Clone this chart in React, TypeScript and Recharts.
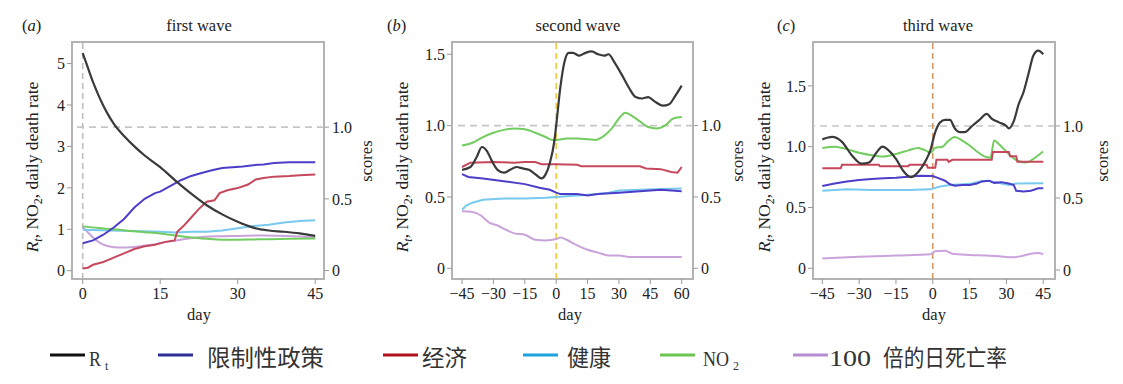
import { LineChart, Line, XAxis, YAxis, ReferenceLine, ReferenceArea } from "recharts";

type Pt = [number, number];

// ---- panel (a): first wave ----
const dayTicksA = [0, 15, 30, 45];
const leftTicksA = [0, 1, 2, 3, 4, 5];
const rtA: Pt[] = [[0, 5.25], [1, 4.9], [2, 4.55], [3, 4.25], [4, 3.98], [5, 3.75], [6, 3.55], [8, 3.25], [10, 3.0], [12, 2.78], [15, 2.5], [18, 2.17], [21, 1.86], [24, 1.58], [27, 1.36], [30, 1.18], [33, 1.04], [36, 0.97], [39, 0.94], [42, 0.9], [45, 0.84]];
const policyA: Pt[] = [[0, 0.19], [2, 0.21], [4, 0.25], [6, 0.3], [8, 0.36], [10, 0.44], [12, 0.5], [14, 0.54], [15, 0.55], [17, 0.59], [19, 0.63], [21, 0.66], [23, 0.68], [25, 0.7], [27, 0.715], [29, 0.72], [31, 0.725], [33, 0.735], [35, 0.74], [37, 0.75], [40, 0.755], [45, 0.755]];
const economyA: Pt[] = [[0, 0.015], [1, 0.02], [2, 0.04], [4, 0.06], [6, 0.09], [8, 0.12], [10, 0.15], [12, 0.17], [14, 0.18], [16, 0.2], [17.8, 0.21], [18.3, 0.27], [19.5, 0.31], [21, 0.37], [22.5, 0.43], [24, 0.48], [25.5, 0.49], [26.5, 0.54], [28, 0.56], [30, 0.575], [32, 0.6], [33.5, 0.635], [35, 0.645], [37, 0.655], [40, 0.66], [42, 0.665], [45, 0.67]];
const healthA: Pt[] = [[0, 0.285], [5, 0.28], [10, 0.275], [15, 0.27], [18, 0.265], [21, 0.27], [24, 0.27], [27, 0.28], [30, 0.295], [33, 0.31], [36, 0.32], [39, 0.335], [42, 0.345], [45, 0.35]];
const no2A: Pt[] = [[0, 1.07], [3, 1.03], [6, 1.0], [9, 0.96], [12, 0.93], [15, 0.9], [18, 0.85], [21, 0.8], [24, 0.77], [27, 0.75], [30, 0.75], [33, 0.755], [36, 0.76], [40, 0.77], [45, 0.78]];
const deathA: Pt[] = [[0, 1.05], [1, 0.93], [2, 0.8], [3, 0.7], [4, 0.63], [5, 0.59], [7, 0.56], [10, 0.575], [13, 0.62], [16, 0.69], [19, 0.75], [22, 0.8], [26, 0.83], [30, 0.84], [35, 0.85], [40, 0.84], [45, 0.8]];

// ---- panel (b): second wave ----
const dayTicksB = [-45, -30, -15, 0, 15, 30, 45, 60];
const leftTicksB = [0, 0.5, 1.0, 1.5];
const rtB: Pt[] = [[-45, 0.69], [-41, 0.71], [-38, 0.78], [-35.5, 0.85], [-33, 0.82], [-31, 0.76], [-28, 0.69], [-25, 0.67], [-22, 0.69], [-19, 0.71], [-16, 0.7], [-13, 0.69], [-10, 0.66], [-7, 0.63], [-5, 0.66], [-3, 0.74], [-1, 0.88], [0, 1.0], [2, 1.27], [4, 1.45], [6, 1.51], [8, 1.51], [11, 1.49], [14, 1.51], [17, 1.52], [20, 1.5], [23, 1.49], [25, 1.5], [28, 1.44], [32, 1.34], [35, 1.26], [38, 1.2], [41, 1.19], [44, 1.2], [47, 1.17], [51, 1.14], [54, 1.15], [57, 1.21], [60, 1.28]];
const no2B: Pt[] = [[-45, 0.86], [-40, 0.88], [-35, 0.92], [-30, 0.95], [-25, 0.97], [-20, 0.98], [-15, 0.975], [-10, 0.95], [-5, 0.92], [-2, 0.9], [0, 0.9], [5, 0.91], [10, 0.91], [15, 0.905], [19, 0.9], [22, 0.92], [26, 0.97], [30, 1.05], [33, 1.09], [36, 1.07], [40, 1.03], [44, 0.99], [48, 0.98], [52, 1.0], [56, 1.05], [60, 1.06]];
const economyB: Pt[] = [[-45, 0.71], [-41, 0.74], [-30, 0.745], [-20, 0.74], [-15, 0.745], [-10, 0.745], [-7, 0.73], [0, 0.73], [10, 0.725], [12, 0.715], [30, 0.715], [40, 0.715], [43, 0.7], [50, 0.695], [55, 0.675], [58, 0.67], [60, 0.71]];
const policyB: Pt[] = [[-45, 0.66], [-42, 0.64], [-35, 0.63], [-25, 0.61], [-15, 0.59], [-8, 0.565], [-3, 0.55], [0, 0.53], [2, 0.52], [10, 0.52], [15, 0.51], [20, 0.52], [30, 0.53], [40, 0.54], [50, 0.55], [55, 0.545], [60, 0.54]];
const healthB: Pt[] = [[-45, 0.41], [-43, 0.44], [-40, 0.46], [-35, 0.48], [-25, 0.49], [-15, 0.49], [-5, 0.495], [0, 0.5], [10, 0.51], [20, 0.52], [25, 0.53], [30, 0.545], [40, 0.55], [50, 0.555], [60, 0.56]];
const deathB: Pt[] = [[-45, 0.4], [-40, 0.395], [-36, 0.37], [-32, 0.32], [-28, 0.3], [-24, 0.27], [-20, 0.245], [-15, 0.235], [-10, 0.2], [-5, 0.195], [0, 0.205], [2, 0.215], [5, 0.2], [10, 0.16], [15, 0.13], [20, 0.11], [25, 0.09], [30, 0.09], [35, 0.08], [40, 0.08], [50, 0.08], [60, 0.08]];

// ---- panel (c): third wave ----
const dayTicksC = [-45, -30, -15, 0, 15, 30, 45];
const leftTicksC = [0, 0.5, 1.0, 1.5];
const rtC: Pt[] = [[-45, 1.06], [-41, 1.08], [-37, 1.04], [-33, 0.93], [-29, 0.86], [-26, 0.87], [-23, 0.95], [-20.5, 1.0], [-18, 0.97], [-15, 0.9], [-12, 0.8], [-9, 0.75], [-6, 0.79], [-3, 0.88], [-1, 0.97], [1, 1.12], [3, 1.2], [5, 1.22], [7, 1.22], [9, 1.15], [11, 1.12], [13, 1.12], [16, 1.17], [19, 1.22], [22, 1.27], [24, 1.23], [27, 1.2], [30, 1.17], [31, 1.15], [33, 1.21], [35, 1.35], [37, 1.45], [39, 1.6], [41, 1.75], [43, 1.79], [45, 1.76]];
const no2C: Pt[] = [[-45, 0.99], [-40, 1.0], [-35, 0.98], [-30, 0.95], [-25, 0.93], [-20, 0.92], [-15, 0.94], [-10, 0.97], [-6, 0.99], [-3, 0.97], [-1, 0.95], [1, 0.99], [4, 1.0], [6, 1.04], [9, 1.08], [12, 1.05], [15, 1.01], [18, 0.96], [21, 0.92], [23.5, 0.91], [25, 1.05], [27, 1.02], [29, 0.98], [32, 0.92], [35, 0.88], [38, 0.87], [41, 0.9], [43, 0.93], [45, 0.96]];
const economyC: Pt[] = [[-45, 0.706], [-37.5, 0.706], [-37, 0.73], [-22, 0.73], [-21.5, 0.72], [-10, 0.72], [-9.5, 0.73], [-2.5, 0.73], [-2, 0.71], [1, 0.71], [1.5, 0.765], [6, 0.765], [6.5, 0.75], [8, 0.765], [24, 0.765], [24.5, 0.82], [31, 0.82], [31.5, 0.79], [34, 0.79], [34.5, 0.752], [45, 0.752]];
const policyC: Pt[] = [[-45, 0.583], [-40, 0.6], [-35, 0.615], [-30, 0.625], [-25, 0.632], [-20, 0.637], [-15, 0.64], [-10, 0.648], [-5, 0.655], [0, 0.653], [2, 0.64], [5, 0.62], [7, 0.595], [9, 0.585], [12, 0.59], [15, 0.59], [18, 0.6], [20, 0.615], [23, 0.62], [25, 0.605], [28, 0.61], [31, 0.6], [33, 0.59], [34, 0.55], [37, 0.545], [40, 0.55], [43, 0.567], [45, 0.567]];
const healthC: Pt[] = [[-45, 0.551], [-35, 0.56], [-25, 0.556], [-10, 0.556], [-1, 0.56], [1, 0.57], [3, 0.58], [7, 0.59], [12, 0.595], [16, 0.6], [19, 0.615], [22, 0.62], [25, 0.61], [28, 0.6], [31, 0.59], [34, 0.6], [45, 0.602]];
const deathC: Pt[] = [[-45, 0.08], [-30, 0.095], [-15, 0.105], [-1, 0.115], [1, 0.14], [5, 0.145], [8, 0.12], [15, 0.11], [22, 0.105], [27, 0.1], [32, 0.09], [36, 0.1], [40, 0.12], [43, 0.125], [45, 0.115]];

const scoreTicks = [0, 0.5, 1.0];
const panelTitles = ["first wave", "second wave", "third wave"];
const panelTags = ["a", "b", "c"];
const legendNames = ["限制性政策", "经济", "健康"];
const deathName = "倍的日死亡率";

const C = {
  rt: "#3a3a3a",
  policy: "#4c3ec8",
  economy: "#c6485c",
  health: "#78c9ee",
  no2: "#73cc5f",
  death: "#c9a3d9",
};
const LEG = {
  rt: "#111111",
  policy: "#2e2f96",
  economy: "#b0121c",
  health: "#1ca3e0",
  no2: "#6cc451",
  death: "#b68ed2",
};

const SERIF = "Liberation Serif, DejaVu Serif, serif";
const CJK = "Noto Sans CJK SC, sans-serif";

const rows = (s: Pt[]) => s.map(([day, v]) => ({ day, v }));
const fmtDay = (v: number) => (v < 0 ? "\u2212" + Math.abs(v) : String(v));
const fmtDec = (v: number) => (v === 0 ? "0" : v.toFixed(1));
const tickStyle = { fontFamily: SERIF, fontSize: 16, fill: "#222" };

interface PanelProps {
  left: number;
  plotWidth: number;
  xDomain: [number, number];
  xTicks: number[];
  lDomain: [number, number];
  lTicks: number[];
  lFmt: (v: number) => string;
  rDomain: [number, number];
  vColor: string;
  rt: Pt[];
  no2: Pt[];
  death: Pt[];
  policy: Pt[];
  economy: Pt[];
  health: Pt[];
}

function Panel(p: PanelProps) {
  return (
    <div style={{ position: "absolute", left: p.left, top: 0 }}>
      <LineChart width={p.plotWidth + 112} height={330} margin={{ top: 42, right: 10, bottom: 21, left: 2 }}>
        <XAxis
          type="number"
          dataKey="day"
          domain={p.xDomain}
          ticks={p.xTicks}
          allowDataOverflow
          axisLine={false}
          tickLine={{ stroke: "#999" }}
          tickSize={5}
          tickMargin={4}
          height={30}
          tick={tickStyle}
          tickFormatter={fmtDay}
        />
        <YAxis
          yAxisId="L"
          type="number"
          domain={p.lDomain}
          ticks={p.lTicks}
          allowDataOverflow
          axisLine={false}
          tickLine={{ stroke: "#999" }}
          tickSize={5}
          tickMargin={2}
          width={60}
          tick={tickStyle}
          tickFormatter={p.lFmt}
        />
        <YAxis
          yAxisId="R"
          orientation="right"
          type="number"
          domain={p.rDomain}
          ticks={scoreTicks}
          allowDataOverflow
          axisLine={false}
          tickLine={{ stroke: "#999" }}
          tickSize={5}
          tickMargin={3}
          width={40}
          tick={tickStyle}
          tickFormatter={fmtDec}
        />
        <ReferenceLine yAxisId="R" y={1} stroke="#c6c6c6" strokeWidth={1.6} strokeDasharray="7 5" />
        <ReferenceLine yAxisId="L" x={0} stroke={p.vColor} strokeWidth={1.6} strokeDasharray="6 4" />
        <Line yAxisId="L" data={rows(p.death)} dataKey="v" type="monotone" stroke={C.death} strokeWidth={2} dot={false} isAnimationActive={false} />
        <Line yAxisId="R" data={rows(p.health)} dataKey="v" type="linear" stroke={C.health} strokeWidth={2} dot={false} isAnimationActive={false} />
        <Line yAxisId="L" data={rows(p.no2)} dataKey="v" type="monotone" stroke={C.no2} strokeWidth={2} dot={false} isAnimationActive={false} />
        <Line yAxisId="R" data={rows(p.economy)} dataKey="v" type="linear" stroke={C.economy} strokeWidth={2} dot={false} isAnimationActive={false} />
        <Line yAxisId="R" data={rows(p.policy)} dataKey="v" type="linear" stroke={C.policy} strokeWidth={2} dot={false} isAnimationActive={false} />
        <Line yAxisId="L" data={rows(p.rt)} dataKey="v" type="monotone" stroke={C.rt} strokeWidth={2.2} dot={false} isAnimationActive={false} />
        <ReferenceArea
          yAxisId="L"
          x1={p.xDomain[0]}
          x2={p.xDomain[1]}
          y1={p.lDomain[0]}
          y2={p.lDomain[1]}
          ifOverflow="visible"
          fill="none"
          fillOpacity={0}
          stroke="#b3b3b3"
          strokeWidth={2}
          strokeOpacity={1}
        />
      </LineChart>
    </div>
  );
}

function YLabel({ x, y }: { x: number; y: number }) {
  return (
    <text x={x} y={y} transform={`rotate(-90 ${x} ${y})`} textAnchor="middle" fontFamily={SERIF} fontSize={17.5} fill="#222">
      <tspan fontStyle="italic">R</tspan>
      <tspan fontStyle="italic" fontSize={12} dy={4}>t</tspan>
      <tspan dy={-4}>, NO</tspan>
      <tspan fontSize={12} dy={4}>2</tspan>
      <tspan dy={-4}>, daily death rate</tspan>
    </text>
  );
}

function Texts() {
  const tagX = [22, 387, 777];
  const titleX = [199, 578, 938];
  const dayX = [199, 570, 934];
  const yLabX = [38, 408, 770];
  const scoreX = [372, 743, 1108];
  return (
    <svg width={1123} height={384} style={{ position: "absolute", left: 0, top: 0, pointerEvents: "none" }}>
      {panelTags.map((t, i) => (
        <text key={t} x={tagX[i]} y={31} fontFamily={SERIF} fontSize={16.5} fill="#222">
          (<tspan fontStyle="italic">{t}</tspan>)
        </text>
      ))}
      {panelTitles.map((t, i) => (
        <text key={t} x={titleX[i]} y={31} textAnchor="middle" fontFamily={SERIF} fontSize={16.5} fill="#222">
          {t}
        </text>
      ))}
      {dayX.map((x) => (
        <text key={x} x={x} y={320} textAnchor="middle" fontFamily={SERIF} fontSize={16.5} fill="#222">
          day
        </text>
      ))}
      {yLabX.map((x) => (
        <YLabel key={x} x={x} y={167} />
      ))}
      {scoreX.map((x) => (
        <text key={x} x={x} y={161} transform={`rotate(-90 ${x} 161)`} textAnchor="middle" fontFamily={SERIF} fontSize={16.5} fill="#222">
          scores
        </text>
      ))}

      {/* legend */}
      <g fontFamily={CJK} fill="#333">
        <line x1={50} x2={85} y1={355} y2={355} stroke={LEG.rt} strokeWidth={3} />
        <text x={89} y={366} fontFamily={SERIF} fontSize={22} textLength={12} lengthAdjust="spacingAndGlyphs">R</text>
        <text x={105} y={370} fontFamily={SERIF} fontSize={12}>t</text>

        <line x1={158} x2={193} y1={355} y2={355} stroke={LEG.policy} strokeWidth={3} />
        <text x={207} y={366} fontSize={23} textLength={117} lengthAdjust="spacingAndGlyphs">{legendNames[0]}</text>

        <line x1={383} x2={418} y1={355} y2={355} stroke={LEG.economy} strokeWidth={3} />
        <text x={422} y={366} fontSize={23} textLength={45} lengthAdjust="spacingAndGlyphs">{legendNames[1]}</text>

        <line x1={523} x2={558} y1={355} y2={355} stroke={LEG.health} strokeWidth={3} />
        <text x={567} y={366} fontSize={23} textLength={44} lengthAdjust="spacingAndGlyphs">{legendNames[2]}</text>

        <line x1={660} x2={695} y1={355} y2={355} stroke={LEG.no2} strokeWidth={3} />
        <text x={703} y={366} fontFamily={SERIF} fontSize={22} textLength={26} lengthAdjust="spacingAndGlyphs">NO</text>
        <text x={733} y={370} fontFamily={SERIF} fontSize={12}>2</text>

        <line x1={793} x2={828} y1={355} y2={355} stroke={LEG.death} strokeWidth={3} />
        <text x={829} y={366} fontFamily={SERIF} fontSize={23} textLength={42} lengthAdjust="spacingAndGlyphs">100</text>
        <text x={883} y={366} fontSize={23} textLength={124} lengthAdjust="spacingAndGlyphs">{deathName}</text>
      </g>
    </svg>
  );
}

export default function App() {
  return (
    <div style={{ position: "absolute", left: 0, top: 0, width: 1123, height: 384, background: "#fff", overflow: "hidden" }}>
      <Panel
        left={10}
        plotWidth={252}
        xDomain={[-2.07, 46.7]}
        xTicks={dayTicksA}
        lDomain={[-0.2, 5.52]}
        lTicks={leftTicksA}
        lFmt={(v) => String(v)}
        rDomain={[-0.059, 1.594]}
        vColor="#bdbdbd"
        rt={rtA}
        no2={no2A}
        death={deathA}
        policy={policyA}
        economy={economyA}
        health={healthA}
      />
      <Panel
        left={390}
        plotWidth={241}
        xDomain={[-49.8, 65.4]}
        xTicks={dayTicksB}
        lDomain={[-0.075, 1.586]}
        lTicks={leftTicksB}
        lFmt={fmtDec}
        rDomain={[-0.075, 1.586]}
        vColor="#f0c848"
        rt={rtB}
        no2={no2B}
        death={deathB}
        policy={policyB}
        economy={economyB}
        health={healthB}
      />
      <Panel
        left={751}
        plotWidth={242}
        xDomain={[-48.8, 49.8]}
        xTicks={dayTicksC}
        lDomain={[-0.088, 1.861]}
        lTicks={leftTicksC}
        lFmt={fmtDec}
        rDomain={[-0.0625, 1.583]}
        vColor="#d69a66"
        rt={rtC}
        no2={no2C}
        death={deathC}
        policy={policyC}
        economy={economyC}
        health={healthC}
      />
      <Texts />
    </div>
  );
}
